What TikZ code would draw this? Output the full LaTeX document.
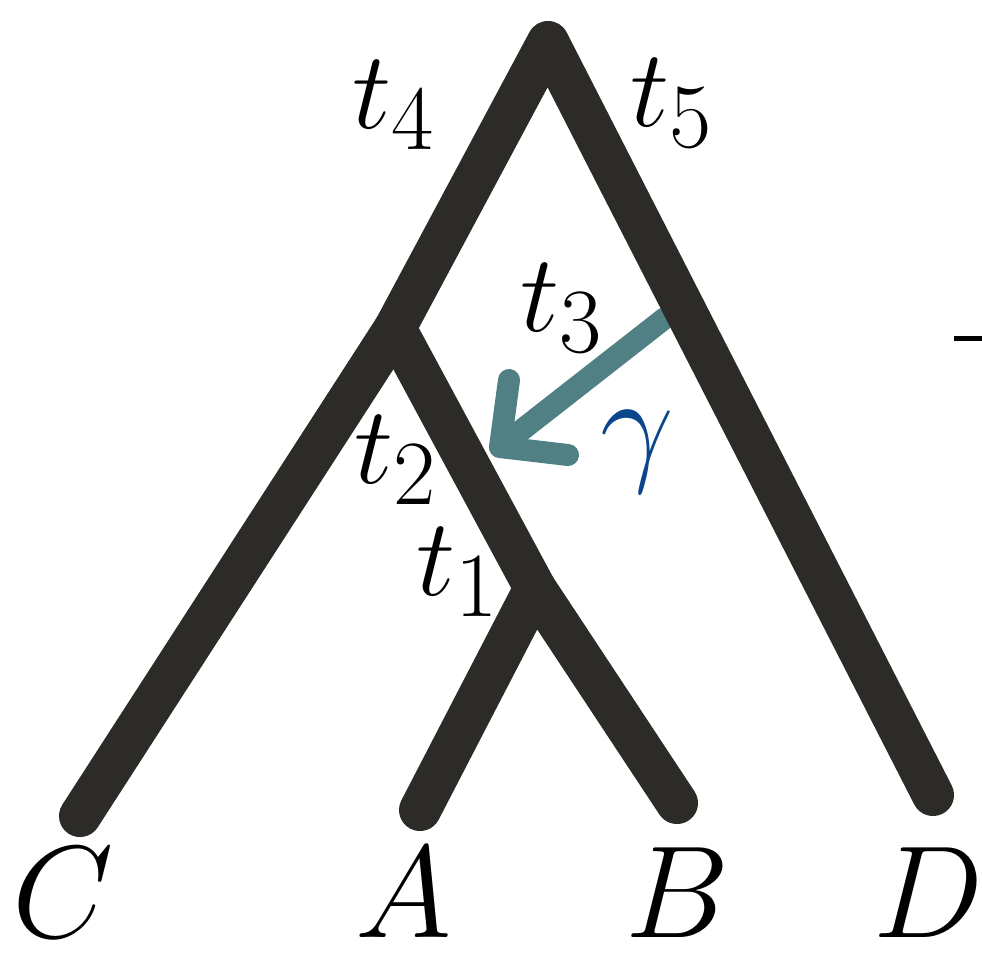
\documentclass[tikz,border=0pt]{standalone}
\definecolor{branchc}{HTML}{2C2B27}
\definecolor{flowc}{HTML}{508084}
\definecolor{gammac}{HTML}{0A468C}

\begin{document}
\begin{tikzpicture}[
    x=0.01cm, y=-0.01cm,
    every node/.style={inner sep=0pt},
    branch/.style={draw=branchc, line width=0.42cm, line cap=round, line join=round},
    flow/.style={draw=flowc, line width=0.22cm, line cap=round, line join=round},
    time label/.style={font=\Huge, scale=1.26, transform shape},
    leaf label/.style={font=\Huge, scale=1.5, transform shape}
]
\useasboundingbox (0,0) rectangle (982,953);

% tree points
\coordinate (root) at (548,42);
\coordinate (u) at (395,328);
\coordinate (v) at (535,588);
\coordinate (c) at (80,816);
\coordinate (a) at (420,810);
\coordinate (b) at (677,803);
\coordinate (d) at (933,795);

% gene flow arrow (under the branches)
\coordinate (gs) at (665,318);
\coordinate (gt) at (500,447);
\coordinate (gup) at (509,380);
\coordinate (glo) at (568,455);
\draw[flow] (gs) -- (gt);
\draw[flow] (gup) -- (gt) -- (glo);

% branches
\draw[branch] (c) -- (u) -- (root) -- (d);
\draw[branch] (u) -- (v) -- (b);
\draw[branch] (v) -- (a);

% times
\node[time label] (t4) at (394,105) {$t_4$};
\node[time label] (t5) at (672,103) {$t_5$};
\node[time label] (t3) at (562,308) {$t_3$};
\node[time label] (t2) at (396,460) {$t_2$};
\node[time label] (t1) at (458,572) {$t_1$};
\node[leaf label, text=gammac] (gamma) at (637,452) {$\gamma$};

% leaves
\node[leaf label] (C) at (63,893) {$C$};
\node[leaf label] (A) at (404,893) {$A$};
\node[leaf label] (B) at (678,893) {$B$};
\node[leaf label] (D) at (929,893) {$D$};

\draw[line width=0.05cm] (954,338.5) -- (982,338.5);
\end{tikzpicture}
\end{document}
